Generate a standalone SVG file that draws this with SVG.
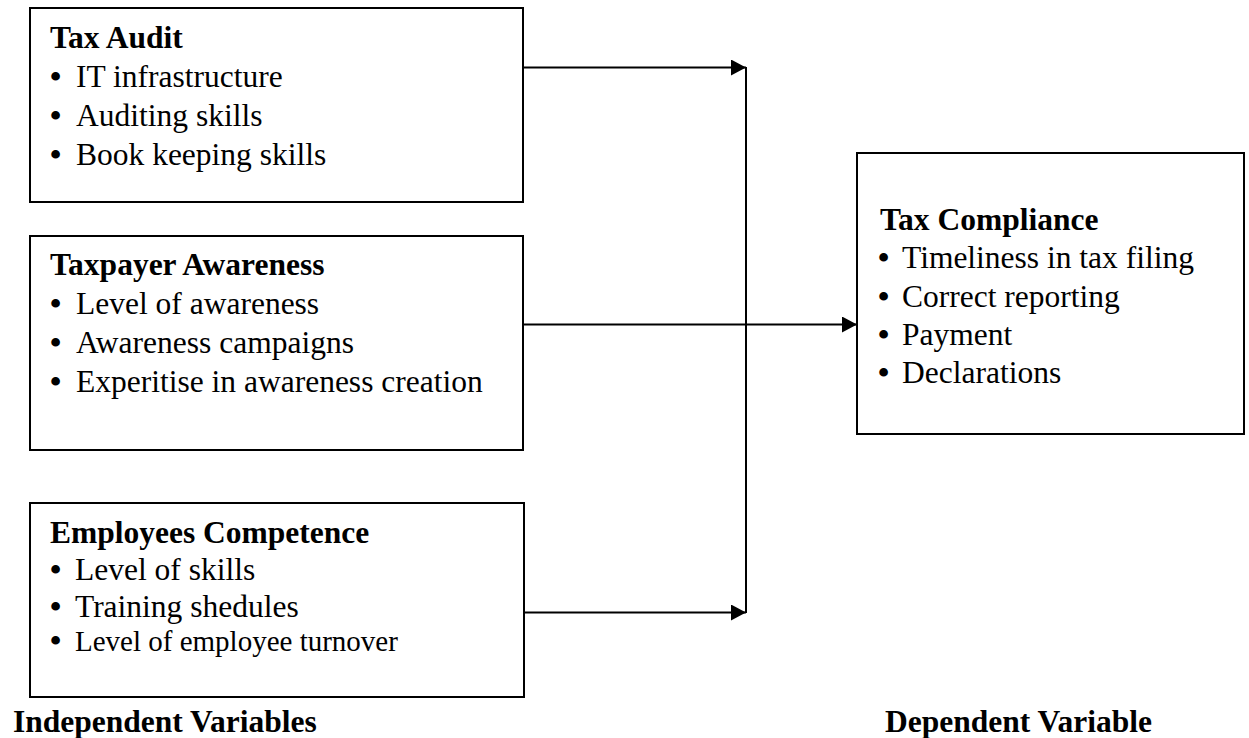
<svg xmlns="http://www.w3.org/2000/svg" width="1249" height="738" viewBox="0 0 1249 738">
  <defs>
    <style>
      .box { fill: #ffffff; stroke: #000000; stroke-width: 2; }
      .conn { fill: none; stroke: #000000; stroke-width: 2; }
      .title { font-family: "Liberation Serif", "Times New Roman", serif; font-weight: bold; font-size: 31.5px; fill: #000; }
      .item { font-family: "Liberation Serif", "Times New Roman", serif; font-size: 31.5px; fill: #000; }
      .small { font-size: 29px; }
      .bullet { font-family: "Liberation Serif", "Times New Roman", serif; font-weight: bold; font-size: 32px; fill: #000; }
    </style>
    <marker id="arrow" viewBox="0 0 15 16" refX="15" refY="8" markerWidth="15" markerHeight="16" markerUnits="userSpaceOnUse" orient="auto">
      <path d="M0,0 L15,8 L0,16 Z" fill="#000"/>
    </marker>
  </defs>
  <rect width="1249" height="738" fill="#ffffff"/>

  <g id="connectors">
    <line class="conn" x1="523" y1="67.5" x2="746" y2="67.5" marker-end="url(#arrow)"/>
    <line class="conn" x1="746" y1="67" x2="746" y2="613"/>
    <line class="conn" x1="524" y1="612.5" x2="746" y2="612.5" marker-end="url(#arrow)"/>
    <line class="conn" x1="523" y1="324.5" x2="857" y2="324.5" marker-end="url(#arrow)"/>
  </g>

  <g id="tax-audit">
    <rect class="box" x="30" y="8" width="493" height="194"/>
    <text class="title" x="50" y="48">Tax Audit</text>
    <text class="bullet" x="50" y="87">•</text>
    <text class="item" x="76" y="87">IT infrastructure</text>
    <text class="bullet" x="50" y="126">•</text>
    <text class="item" x="76" y="126">Auditing skills</text>
    <text class="bullet" x="50" y="165">•</text>
    <text class="item" x="76" y="165">Book keeping skills</text>
  </g>

  <g id="taxpayer-awareness">
    <rect class="box" x="30" y="236" width="493" height="214"/>
    <text class="title" x="50" y="275">Taxpayer Awareness</text>
    <text class="bullet" x="50" y="314">•</text>
    <text class="item" x="76" y="314">Level of awareness</text>
    <text class="bullet" x="50" y="353">•</text>
    <text class="item" x="76" y="353">Awareness campaigns</text>
    <text class="bullet" x="50" y="392">•</text>
    <text class="item" x="76" y="392">Experitise in awareness creation</text>
  </g>

  <g id="employees-competence">
    <rect class="box" x="30" y="503" width="494" height="194"/>
    <text class="title" x="50" y="543">Employees Competence</text>
    <text class="bullet" x="50" y="580">•</text>
    <text class="item" x="75" y="580">Level of skills</text>
    <text class="bullet" x="50" y="617">•</text>
    <text class="item" x="75" y="617">Training shedules</text>
    <text class="bullet" x="50" y="651">•</text>
    <text class="item small" x="75" y="651">Level of employee turnover</text>
  </g>

  <g id="tax-compliance">
    <rect class="box" x="857" y="153" width="387" height="281"/>
    <text class="title" x="880" y="230">Tax Compliance</text>
    <text class="bullet" x="878" y="268">•</text>
    <text class="item" x="902" y="268">Timeliness in tax filing</text>
    <text class="bullet" x="878" y="307">•</text>
    <text class="item" x="902" y="307">Correct reporting</text>
    <text class="bullet" x="878" y="345">•</text>
    <text class="item" x="902" y="345">Payment</text>
    <text class="bullet" x="878" y="383">•</text>
    <text class="item" x="902" y="383">Declarations</text>
  </g>

  <g id="labels">
    <text class="title" x="13" y="732">Independent Variables</text>
    <text class="title" x="885" y="732">Dependent Variable</text>
  </g>
</svg>
